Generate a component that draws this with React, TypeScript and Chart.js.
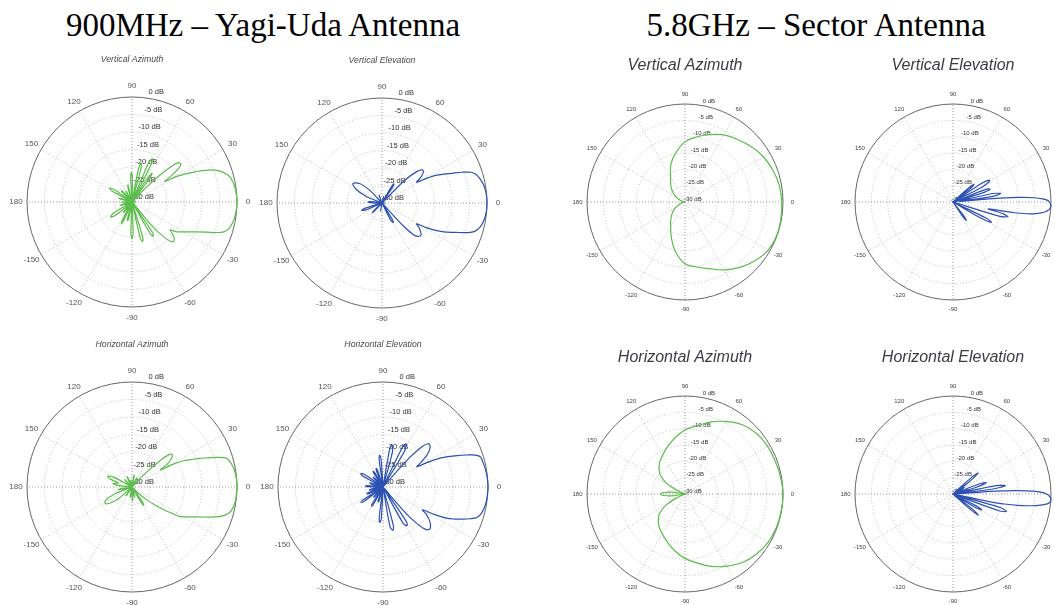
import React, { useEffect, useRef } from "react";
import { Chart, registerables } from "chart.js";

Chart.register(...registerables);

// ---------- axis labels ----------
const angleTickValues = [0, 30, 60, 90, 120, 150, 180, 210, 240, 270, 300, 330];
const angleTickLabels = ["0", "30", "60", "90", "120", "150", "180", "-150", "-120", "-90", "-60", "-30"];
const dbTicks = [0, -5, -10, -15, -20, -25, -30];

const mainTitles = ["900MHz – Yagi-Uda Antenna", "5.8GHz – Sector Antenna"];
const plotTitles = ["Vertical Azimuth", "Vertical Elevation", "Horizontal Azimuth", "Horizontal Elevation"];

// ---------- patterns: [angle in degrees, gain in dB] ----------
type Pat = [number, number][];

const yagiVertAz: Pat = [
  [0, 0], [4, -0.1], [8, -0.3], [12, -0.7], [15, -1.3], [18, -2.6], [20, -3.8], [22, -5.5], [24, -8], [26, -10.5],
  [28, -13], [30, -15.5], [32, -19], [34, -16], [36, -13.5], [38, -12.3], [40, -12.5], [42, -14.5], [44, -19], [46, -25], [48, -30],
  [51, -30], [53, -23], [55, -20], [57, -22], [59, -30],
  [61, -30], [63, -18], [65, -16.3], [67, -18], [69, -30],
  [73, -30], [75, -20], [77, -18.5], [79, -20.5], [81, -30],
  [87, -30], [89, -23], [91, -21.5], [93, -23], [95, -30],
  [101, -30], [103, -26], [104, -25], [106, -26.5], [108, -30],
  [116, -30], [118, -27], [119, -26.5], [121, -27.5], [123, -30],
  [129, -30], [131, -26.5], [133, -25.5], [135, -26.5], [137, -30],
  [142, -30], [145, -24], [148, -22.5], [151, -23.5], [154, -30],
  [160, -30], [162, -27], [164, -26], [166, -27], [168, -30],
  [176, -30], [178, -28], [180, -27], [-178, -28], [-176, -30],
  [-168, -30], [-166, -27.5], [-164, -26.5], [-162, -27.5], [-160, -30],
  [-152, -30], [-149, -24], [-145, -22.5], [-141, -24], [-138, -30],
  [-133, -30], [-131, -27], [-129, -26], [-127, -27], [-125, -30],
  [-121, -30], [-118, -24.5], [-116, -23], [-114, -24.5], [-111, -30],
  [-107, -30], [-105, -25.5], [-103, -24.5], [-101, -25.5], [-98, -30],
  [-94, -30], [-92, -21], [-90, -19.5], [-88, -21], [-86, -30],
  [-80, -30], [-77, -19.5], [-75, -18.3], [-73, -19.5], [-70, -30],
  [-63, -30], [-60, -19.5], [-58, -18.5], [-56, -19.5], [-53, -30],
  [-50, -21], [-47, -15.5], [-44, -13.6], [-41, -14], [-38, -15.5], [-36, -16.5], [-34, -14.8], [-31, -13.4],
  [-28, -11.8], [-25, -9.8], [-22, -7], [-20, -4.5], [-18, -2.4], [-15, -1.2], [-12, -0.7], [-8, -0.3], [-4, -0.1],
];

const yagiVertEl: Pat = [
  [0, 0], [5, -0.1], [10, -0.5], [14, -1.2], [17, -2], [19, -3], [21, -5.5], [23, -8.3], [25, -10.5], [27, -12.5],
  [29, -15.5], [31, -18.5], [33, -17], [36, -15.5], [39, -15], [42, -16.5], [45, -21], [48, -30],
  [53, -30], [56, -24.5], [58, -23.5], [60, -24.5], [63, -30],
  [72, -30], [75, -28], [78, -30],
  [105, -30], [110, -27.5], [115, -30],
  [130, -30], [134, -25], [139, -21.5], [146, -20], [152, -21.5], [157, -25], [161, -30],
  [165, -30], [172, -27], [176, -26], [-178, -28], [-172, -30],
  [-166, -30], [-163, -25], [-160, -23.8], [-157, -25], [-154, -30],
  [-140, -30], [-137, -27], [-135, -26], [-133, -27], [-130, -30],
  [-105, -30], [-100, -27.5], [-95, -30],
  [-66, -30], [-63, -24.5], [-60, -23.5], [-58, -24.5], [-55, -30],
  [-49, -30], [-47, -21], [-45, -17], [-42, -15.8], [-39, -15.6], [-36, -16.5], [-33, -17.5], [-31, -18.5],
  [-29, -15.5], [-27, -12.8], [-25, -10.5], [-23, -8.5], [-21, -6.5], [-19, -4], [-17, -2.3], [-14, -1.2], [-10, -0.5], [-5, -0.1],
];

const yagiHorizAz: Pat = [
  [0, 0], [5, -0.1], [10, -0.4], [14, -1], [17, -1.8], [19, -4], [21, -6.8], [23, -9], [25, -11.5], [27, -13.5],
  [29, -16.5], [31, -20.5], [33, -18], [36, -16], [39, -15.3], [41, -15.8], [43, -18.5], [46, -25], [49, -30],
  [56, -30], [58, -28], [60, -27], [62, -28], [64, -30],
  [76, -30], [78, -27.5], [80, -26.5], [82, -27.5], [84, -30],
  [97, -30], [99, -28.5], [100, -28], [102, -28.5], [104, -30],
  [111, -30], [113, -27.5], [115, -26.7], [117, -27.5], [119, -30],
  [131, -30], [133, -28], [135, -27], [137, -28], [139, -30],
  [148, -30], [152, -24], [156, -22.4], [160, -23.5], [163, -26],
  [167, -25], [170, -24.5], [173, -26], [176, -30], [180, -29],
  [-176, -30], [-172, -27], [-168, -26], [-164, -30],
  [-162, -30], [-158, -24.5], [-153, -21.5], [-148, -21], [-143, -22.5], [-139, -25], [-136, -30],
  [-128, -30], [-126, -27.5], [-125, -27], [-123, -27.5], [-121, -30],
  [-103, -30], [-101, -27.5], [-100, -27], [-98, -27.5], [-96, -30],
  [-91, -30], [-89, -26.5], [-88, -26], [-86, -26.5], [-84, -30],
  [-78, -30], [-76, -27.5], [-75, -27], [-73, -27.5], [-71, -30],
  [-62, -30], [-59, -24.5], [-57, -23.8], [-55, -24.5], [-52, -30],
  [-47, -30], [-44, -27], [-41, -24.5], [-38, -21.5], [-35, -18.2], [-33, -16], [-32, -14.2], [-30, -12.9],
  [-28, -11.8], [-26, -10.5], [-24, -9], [-22, -7], [-20, -5], [-18, -3], [-15, -1.3], [-12, -0.6], [-8, -0.2], [-4, -0.1],
];

const yagiHorizEl: Pat = [
  [0, 0], [5, -0.1], [10, -0.3], [14, -0.6], [17, -0.8], [19, -2], [21, -4.5], [23, -7], [25, -9.5], [27, -12],
  [29, -15.5], [31, -18.7], [33, -17], [36, -14.5], [39, -12.8], [42, -12], [44, -12.2], [46, -14], [48, -19], [50, -30],
  [56, -30], [59, -18], [62, -16], [64, -17.5], [67, -30],
  [72, -30], [75, -19.5], [78, -17.7], [80, -19], [83, -30],
  [91, -30], [94, -22], [96, -20.8], [98, -22], [101, -30],
  [106, -30], [108, -25], [110, -24.3], [112, -25], [115, -30],
  [118, -30], [120, -25.5], [122, -24.7], [124, -25.5], [127, -30],
  [131, -30], [133, -26.5], [135, -26], [137, -26.5], [140, -30],
  [143, -30], [146, -23.5], [149, -22.6], [152, -23.5], [155, -30],
  [159, -30], [161, -26.5], [163, -26], [165, -26.5], [168, -30],
  [172, -30], [175, -25.5], [177, -25], [179, -25.5], [-178, -30],
  [-172, -30], [-170, -26.5], [-168, -26], [-166, -26.5], [-164, -30],
  [-161, -30], [-159, -25.5], [-157, -25], [-155, -25.5], [-153, -30],
  [-150, -30], [-147, -23], [-145, -22.3], [-143, -23], [-140, -30],
  [-136, -30], [-134, -26.5], [-132, -26], [-130, -26.5], [-128, -30],
  [-125, -30], [-123, -24.3], [-121, -23.6], [-119, -24.3], [-116, -30],
  [-112, -30], [-110, -26], [-108, -25.5], [-106, -26], [-103, -30],
  [-100, -30], [-97, -21], [-95, -19.8], [-93, -21], [-90, -30],
  [-83, -30], [-80, -18.5], [-77, -17.3], [-75, -18.5], [-72, -30],
  [-65, -30], [-61, -18], [-58, -17], [-56, -18], [-53, -30],
  [-51, -30], [-49, -20], [-47, -15.5], [-45, -13], [-42, -12], [-38, -12.8], [-35, -14], [-32, -15.5], [-30, -17],
  [-28, -13], [-26, -9.5], [-24, -7.5], [-22, -5.5], [-20, -3.5], [-18, -1.8], [-15, -0.9], [-10, -0.3], [-5, -0.1],
];

const sectorVertAz: Pat = [
  [0, -0.4], [10, -0.7], [20, -1.4], [30, -2.3], [40, -3.6], [50, -5], [60, -6.3], [70, -8.1], [80, -9.8], [90, -11.6],
  [100, -14.5], [110, -17.5], [120, -21.2], [130, -23.2], [140, -25], [150, -26.8], [160, -28.3], [170, -29.5], [180, -30],
  [-170, -29.5], [-160, -28.3], [-150, -26.8], [-140, -25], [-130, -23.3], [-120, -21.2], [-110, -18], [-100, -14.2],
  [-90, -11.1], [-80, -9.8], [-70, -8.3], [-60, -6], [-50, -3.9], [-40, -2], [-30, -0.6], [-20, -0.1], [-10, -0.2],
];

const sectorVertEl: Pat = [
  [-60, -30], [-56, -25], [-54, -23], [-52, -25], [-49, -30],
  [-33, -30], [-30, -20], [-28, -16.7], [-26, -18.5], [-24, -30],
  [-20, -30], [-17, -15], [-15, -12.6], [-13, -14.5], [-11, -19],
  [-10, -11], [-9, -7], [-8, -4.5], [-7, -2.8], [-6, -1.5], [-5, -0.8], [-4, -0.3], [-3, -0.1], [-2, 0], [-1, -0.2],
  [0, -0.5], [1, -1], [2, -2.5], [3, -5], [4, -10], [5, -19], [6, -28],
  [8, -18], [10, -15.2], [12, -17.5], [14, -30],
  [17, -21], [19, -18], [21, -19], [23, -30],
  [27, -20.5], [29, -17.5], [31, -17], [33, -19.5], [35, -30],
  [38, -23.5], [40, -21.6], [42, -23.5], [45, -30],
  [90, -30], [180, -30], [-90, -30],
];

const sectorHorizAz: Pat = [
  [0, 0], [10, -0.3], [20, -0.6], [30, -0.8], [40, -1.3], [50, -2.4], [60, -4.4], [70, -6.5], [80, -8.8], [90, -10.4],
  [100, -12.5], [110, -14.5], [120, -16.3], [130, -17.8], [140, -19.8], [145, -21.5], [150, -23.5], [155, -27], [160, -30],
  [168, -30], [172, -26], [176, -23.5], [180, -22.5], [-176, -23.5], [-172, -26], [-168, -30],
  [-160, -30], [-155, -27], [-150, -23.5], [-145, -21.2], [-140, -19.5], [-130, -17.5], [-120, -16], [-110, -14.3],
  [-100, -12.3], [-90, -10.3], [-80, -8.6], [-70, -6.4], [-60, -4.5], [-50, -2.6], [-40, -1.4], [-30, -0.6], [-20, -0.2], [-10, -0.1],
];

const sectorHorizEl: Pat = [
  [-46, -30], [-42, -24], [-40, -20], [-38, -22], [-35, -30],
  [-33, -30], [-31, -22], [-29, -20], [-27, -22.5], [-24, -30],
  [-22, -30], [-20, -15], [-18, -12.8], [-16, -15], [-14, -30],
  [-12, -18], [-11, -14], [-10, -10], [-9, -7], [-8, -4.5], [-7, -2.5], [-6, -1], [-5, -0.3], [-4, 0], [-3, 0],
  [-2, -0.2], [-1, -0.6], [0, -1.4], [1, -2.8], [2, -5.5], [3, -10], [4, -17], [5, -30],
  [7, -18], [9, -13.8], [11, -16.5], [13, -30],
  [16, -23], [19, -19.2], [21, -21.5], [24, -30],
  [28, -27], [30, -26], [32, -30],
  [37, -24], [40, -20], [42, -22.5], [45, -30],
  [90, -30], [180, -30], [-90, -30],
];

// radar categories: one per degree, clockwise from the right (index i = pattern angle -i)
const radialLabels = Array.from({ length: 360 }, (_, i) => (360 - i) % 360);

function buildSeries(pat: Pat): (number | null)[] {
  const data: (number | null)[] = new Array(360).fill(null);
  for (const [a, g] of pat) {
    const idx = ((Math.round(-a) % 360) + 360) % 360;
    data[idx] = Math.max(g, -30);
  }
  return data;
}

const GREEN = "#5bbd4b";
const BLUE = "#2d51b3";

type Style = {
  padX: number; padT: number; padB: number;
  titleFont: string; titleColor: string; titleDy: number;
  angleFont: string; angleColor: string; angleOff: number;
  dbFont: string; dbColor: string; dbDx0: number; dbK: number; dbDy: number;
  lineWidth: number;
};

const yagiStyle: Style = {
  padX: 20, padT: 43, padB: 20,
  titleFont: 'italic 8.7px "Liberation Sans", Arial, sans-serif', titleColor: "#4a4a4a", titleDy: -142,
  angleFont: '8px "Liberation Sans", Arial, sans-serif', angleColor: "#555", angleOff: 11,
  dbFont: '7.5px "Liberation Sans", Arial, sans-serif', dbColor: "#333", dbDx0: 22, dbK: 0.095, dbDy: 5,
  lineWidth: 1.2,
};

const sectorStyle: Style = {
  padX: 18, padT: 48, padB: 16,
  titleFont: 'italic 16px "Liberation Sans", Arial, sans-serif', titleColor: "#3a3d44", titleDy: -136,
  angleFont: '6px "Liberation Sans", Arial, sans-serif', angleColor: "#444", angleOff: 9.5,
  dbFont: '6px "Liberation Sans", Arial, sans-serif', dbColor: "#333", dbDx0: 16.7, dbK: 0.137, dbDy: 3,
  lineWidth: 1.2,
};

type PlotSpec = { title: string; pattern: Pat; color: string; cx: number; cy: number; R: number; tension: number; style: Style };

const plots: PlotSpec[] = [
  { title: plotTitles[0], pattern: yagiVertAz, color: GREEN, cx: 132, cy: 202, R: 105, tension: 0.3, style: yagiStyle },
  { title: plotTitles[1], pattern: yagiVertEl, color: BLUE, cx: 382, cy: 203, R: 105, tension: 0.3, style: yagiStyle },
  { title: plotTitles[2], pattern: yagiHorizAz, color: GREEN, cx: 132, cy: 487, R: 105, tension: 0.3, style: yagiStyle },
  { title: plotTitles[3], pattern: yagiHorizEl, color: BLUE, cx: 383, cy: 487, R: 105, tension: 0.3, style: yagiStyle },
  { title: plotTitles[0], pattern: sectorVertAz, color: GREEN, cx: 685, cy: 202, R: 98, tension: 0.4, style: sectorStyle },
  { title: plotTitles[1], pattern: sectorVertEl, color: BLUE, cx: 953, cy: 202, R: 98, tension: 0.3, style: sectorStyle },
  { title: plotTitles[2], pattern: sectorHorizAz, color: GREEN, cx: 685, cy: 494, R: 98, tension: 0.4, style: sectorStyle },
  { title: plotTitles[3], pattern: sectorHorizEl, color: BLUE, cx: 953, cy: 494, R: 98, tension: 0.3, style: sectorStyle },
];

const polarDecor = {
  id: "polarDecor",
  beforeDatasetsDraw(chart: any, _args: any, opts: any) {
    const s = chart.scales.r;
    const ctx = chart.ctx;
    const st: Style = opts.style;
    ctx.save();
    ctx.font = st.dbFont;
    ctx.fillStyle = st.dbColor;
    ctx.textAlign = "right";
    ctx.textBaseline = "middle";
    dbTicks.forEach((v) => {
      const r = s.getDistanceFromCenterForValue(v);
      ctx.fillText(`${v} dB`, s.xCenter + st.dbDx0 + st.dbK * r, s.yCenter - r - st.dbDy);
    });
    ctx.restore();
  },
  afterDraw(chart: any, _args: any, opts: any) {
    const s = chart.scales.r;
    const ctx = chart.ctx;
    const st: Style = opts.style;
    ctx.save();
    ctx.textAlign = "center";
    ctx.textBaseline = "middle";
    ctx.font = st.titleFont;
    ctx.fillStyle = st.titleColor;
    ctx.fillText(opts.title, s.xCenter, s.yCenter + st.titleDy);
    ctx.font = st.angleFont;
    ctx.fillStyle = st.angleColor;
    angleTickValues.forEach((a, k) => {
      const idx = (360 - a) % 360;
      const p = s.getPointPosition(idx, s.drawingArea + st.angleOff);
      ctx.fillText(angleTickLabels[k], p.x, p.y);
    });
    ctx.restore();
  },
};

function PolarPlot({ spec }: { spec: PlotSpec }) {
  const ref = useRef<HTMLCanvasElement>(null);
  const st = spec.style;
  const W = 2 * spec.R + 2 * st.padX;
  const H = 2 * spec.R + st.padT + st.padB;
  useEffect(() => {
    const chart = new Chart(ref.current as HTMLCanvasElement, {
      type: "radar",
      data: {
        labels: radialLabels,
        datasets: [
          {
            data: buildSeries(spec.pattern),
            borderColor: spec.color,
            borderWidth: st.lineWidth,
            pointRadius: 0,
            pointHitRadius: 0,
            fill: false,
            spanGaps: true,
            tension: spec.tension,
          } as any,
        ],
      },
      options: {
        animation: false,
        responsive: false,
        maintainAspectRatio: false,
        events: [],
        layout: { padding: { left: st.padX, right: st.padX, top: st.padT, bottom: st.padB } },
        plugins: {
          legend: { display: false },
          tooltip: { enabled: false },
          polarDecor: { title: spec.title, style: st },
        } as any,
        scales: {
          r: {
            min: -30,
            max: 0,
            startAngle: 90,
            ticks: { display: false, stepSize: 5 },
            pointLabels: { display: false },
            grid: {
              circular: true,
              color: (c: any) => (c.tick && c.tick.value === 0 ? "#666" : "#bdbdbd"),
              lineWidth: 1,
            },
            border: { dash: (c: any) => (c.tick && c.tick.value === 0 ? [] : [1, 2]) },
            angleLines: {
              color: (c: any) => (c.index % 90 === 0 ? "#999" : "#bdbdbd"),
              lineWidth: (c: any) => (c.index % 30 === 0 ? 1 : 0),
              borderDash: [1, 2],
            },
          } as any,
        },
      },
      plugins: [polarDecor as any],
    });
    return () => chart.destroy();
  }, []);
  return (
    <canvas
      ref={ref}
      width={W}
      height={H}
      style={{ position: "absolute", left: spec.cx - st.padX - spec.R, top: spec.cy - st.padT - spec.R, width: W, height: H }}
    />
  );
}

const titleStyle: React.CSSProperties = {
  position: "absolute",
  top: 9,
  textAlign: "center",
  font: '33px "Liberation Serif", "Times New Roman", serif',
  lineHeight: "33px",
  whiteSpace: "nowrap",
  color: "#000",
};

export default function App() {
  return (
    <div style={{ position: "absolute", left: 0, top: 0, width: 1055, height: 605, overflow: "hidden", background: "#fff" }}>
      <div style={{ ...titleStyle, left: 0, width: 526 }}>{mainTitles[0]}</div>
      <div style={{ ...titleStyle, left: 566, width: 500 }}>{mainTitles[1]}</div>
      {plots.map((p, i) => (
        <PolarPlot key={i} spec={p} />
      ))}
    </div>
  );
}
